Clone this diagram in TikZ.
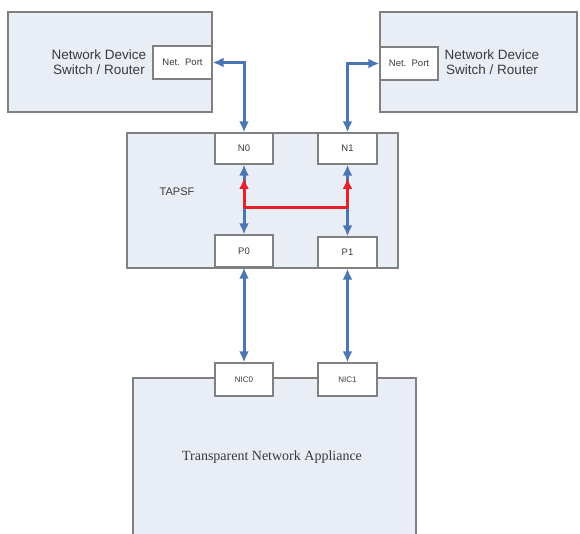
\documentclass[tikz,border=0pt]{standalone}
\usepackage{fontspec}
\setmainfont{Liberation Serif}
\setsansfont{Liberation Sans}
\usetikzlibrary{arrows.meta}
\definecolor{boxfill}{HTML}{E9EDF6}
\definecolor{boxline}{HTML}{808080}
\definecolor{arrowblue}{HTML}{4A77B4}
\definecolor{tapred}{HTML}{E8202A}
\definecolor{txt}{HTML}{3A3A3A}
\begin{document}
\begin{tikzpicture}[x=1pt,y=-1pt,
  bigbox/.style={draw=boxline,fill=boxfill,line width=1.5pt,inner sep=0pt},
  portbox/.style={draw=boxline,fill=white,line width=1.3pt,inner sep=0pt,text=txt,font=\sffamily\fontsize{9.5}{10}\selectfont},
  link/.style={draw=arrowblue,line width=3pt,{Latex[length=11pt,width=10pt]}-{Latex[length=11pt,width=10pt]}},
  redlink/.style={draw=tapred,line width=3pt,-{Latex[length=11pt,width=10pt]}},
  lbl/.style={text=txt,font=\sffamily\fontsize{13.5}{15}\selectfont,align=center}]
\useasboundingbox (0,0) rectangle (580,534);
\clip (0,0) rectangle (580,534);
% big boxes
\node[bigbox,minimum width=204pt,minimum height=100pt] (dev1) at (110,62) {};
\node[bigbox,minimum width=197pt,minimum height=100pt] (dev2) at (478.5,62) {};
\node[bigbox,minimum width=271pt,minimum height=135pt] (tap) at (262.5,200.5) {};
\node[bigbox,minimum width=283pt,minimum height=170pt,anchor=north west] (app) at (132,377) {};
% labels
\node[lbl] (dev1lbl) at (99,62) {Network Device\\Switch / Router};
\node[lbl] (dev2lbl) at (492,62) {Network Device\\Switch / Router};
\node[text=txt,font=\sffamily\fontsize{11}{12}\selectfont] (taplbl) at (177,192) {TAPSF};
\node[text=txt,font=\rmfamily\fontsize{14}{16}\selectfont] (applbl) at (272,457) {Transparent Network Appliance};
% ports
\node[portbox,minimum width=59pt,minimum height=33pt] (port1) at (182.5,62.5) {Net.\ \ Port};
\node[portbox,minimum width=58pt,minimum height=33pt] (port2) at (409,63.5) {Net.\ \ Port};
\node[portbox,minimum width=58pt,minimum height=31pt] (N0) at (244,148.5) {N0};
\node[portbox,minimum width=59pt,minimum height=31pt] (N1) at (347.5,148.5) {N1};
\node[portbox,minimum width=58pt,minimum height=32pt] (P0) at (244,251) {P0};
\node[portbox,minimum width=59pt,minimum height=31pt] (P1) at (347.5,252.5) {P1};
\node[portbox,minimum width=58pt,minimum height=33pt,font=\sffamily\fontsize{8}{9}\selectfont] (NIC0) at (244,379.5) {NIC0};
\node[portbox,minimum width=59pt,minimum height=33pt,font=\sffamily\fontsize{8}{9}\selectfont] (NIC1) at (347.5,379.5) {NIC1};
% blue links
\draw[link] (port1.east) -| (N0.north);
\draw[link] (port2.west) -| (N1.north);
\draw[link] (N0.south) -- (P0.north);
\draw[link] (N1.south) -- (P1.north);
\draw[link] (P0.south) -- (NIC0.north);
\draw[link] (P1.south) -- (NIC1.north);
% red tap
\coordinate (r0) at (244,208);
\coordinate (r1) at (347.5,208);
\coordinate (t0) at (244,178);
\coordinate (t1) at (347.5,178);
\draw[draw=tapred,line width=3pt] (r0) -- (r1);
\draw[redlink] (r0) -- (t0);
\draw[redlink] (r1) -- (t1);
\end{tikzpicture}
\end{document}
